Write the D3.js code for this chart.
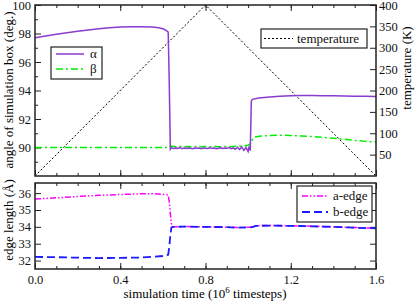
<!DOCTYPE html>
<html>
<head>
<meta charset="utf-8">
<script src="https://cdn.jsdelivr.net/npm/d3@7"></script>
<style>
  body { margin: 0; background: #fff; }
  svg, svg text { font-family: 'Liberation Serif', 'Times New Roman', Times, 'DejaVu Serif', serif !important; }
  .axis path { display: none; }
  .axis line { stroke: #222; stroke-width: 1; }
  .axis text { font-size: 12.5px; fill: #111; }
</style>
</head>
<body>
<script>
// ---- data (time in 10^6 timesteps) ----
const alphaT = [0, 0.05, 0.1, 0.15, 0.2, 0.25, 0.3, 0.35, 0.4, 0.45, 0.5, 0.55, 0.58, 0.6, 0.615, 0.625, 0.63, 0.635,
  0.64, 0.65, 0.66, 0.67, 0.68, 0.69, 0.70, 0.71, 0.72, 0.73, 0.74, 0.75, 0.76, 0.77, 0.78, 0.79, 0.80, 0.81, 0.82,
  0.83, 0.84, 0.85, 0.86, 0.87, 0.88, 0.89, 0.90, 0.91, 0.92, 0.93, 0.94, 0.95, 0.96, 0.97, 0.98, 0.99, 1.00, 1.005,
  1.01, 1.015, 1.02, 1.05, 1.1, 1.15, 1.2, 1.25, 1.3, 1.35, 1.4, 1.45, 1.5, 1.55, 1.6];
const alphaV = [97.7, 97.82, 97.95, 98.06, 98.16, 98.25, 98.33, 98.4, 98.45, 98.48, 98.48, 98.45, 98.4, 98.33, 98.22, 98.1, 94.5, 89.88,
  89.98, 89.93, 89.97, 89.94, 89.99, 89.92, 89.96, 89.93, 89.97, 89.95, 89.92, 89.96, 89.94, 89.97, 89.92, 89.96, 89.95, 89.93, 89.98,
  89.94, 89.96, 89.92, 89.95, 89.98, 89.93, 89.96, 89.94, 89.99, 89.92, 89.97, 89.88, 90.02, 89.85, 90.05, 89.8, 90.0, 89.72, 90.08,
  89.78, 93.25, 93.38, 93.47, 93.55, 93.6, 93.63, 93.65, 93.65, 93.64, 93.63, 93.61, 93.6, 93.59, 93.58];

const betaT = [0, 0.2, 0.4, 0.6, 0.63, 0.64, 0.66, 0.68, 0.7, 0.72, 0.74, 0.76, 0.78, 0.8, 0.82, 0.84, 0.86, 0.88, 0.9,
  0.92, 0.94, 0.96, 0.98, 1.0, 1.01, 1.02, 1.03, 1.06, 1.1, 1.15, 1.2, 1.25, 1.3, 1.35, 1.4, 1.45, 1.5, 1.55, 1.6];
const betaV = [90.0, 90.0, 90.0, 90.0, 90.0, 90.1, 90.05, 90.08, 90.05, 90.07, 90.05, 90.08, 90.05, 90.07, 90.05, 90.08,
  90.06, 90.05, 90.08, 90.06, 90.08, 90.1, 90.12, 90.16, 90.25, 90.55, 90.74, 90.8, 90.84, 90.86, 90.84, 90.81, 90.77,
  90.71, 90.65, 90.58, 90.5, 90.43, 90.38];

const tempT = [0, 0.8, 1.6];
const tempV = [0, 400, 0];

const edgeT = [0, 0.1, 0.2, 0.3, 0.4, 0.5, 0.55, 0.6, 0.625, 0.63, 0.635, 0.64, 0.645, 0.7, 0.8, 0.9, 0.95, 1.0,
  1.02, 1.035, 1.1, 1.2, 1.3, 1.4, 1.5, 1.6];
const aEdgeV = [35.65, 35.72, 35.8, 35.87, 35.92, 35.96, 35.97, 35.93, 35.88, 35.5, 34.8, 34.2, 34.0, 34.02, 34.0,
  33.98, 33.96, 33.97, 33.98, 34.07, 34.08, 34.06, 34.04, 34.0, 33.96, 33.92];
const bEdgeV = [32.22, 32.2, 32.17, 32.15, 32.16, 32.18, 32.22, 32.27, 32.35, 32.8, 33.5, 33.95, 34.0, 34.01, 34.0,
  33.98, 33.95, 33.97, 33.98, 34.06, 34.07, 34.06, 34.03, 34.0, 33.95, 33.91];

const xTicks = [0, 0.4, 0.8, 1.2, 1.6];
const angleTicks = [90, 92, 94, 96, 98, 100];
const tempTicks = [50, 100, 150, 200, 250, 300, 350, 400];
const edgeTicks = [32, 33, 34, 35, 36];

// ---- layout ----
const W = 415, H = 303;
const X0 = 35, X1 = 376;
const T0 = 5, T1 = 176;   // top panel
const B0 = 183, B1 = 269; // bottom panel
const FONT = "'Liberation Serif', 'Times New Roman', serif";

const svg = d3.select('body').append('svg').attr('width', W).attr('height', H)
  .attr('font-family', FONT);

const x = d3.scaleLinear().domain([0, 1.6]).range([X0, X1]);
const yAng = d3.scaleLinear().domain([88, 100]).range([T1, T0]);
const yTemp = d3.scaleLinear().domain([0, 400]).range([T1, T0]);
const yEdge = d3.scaleLinear().domain([31.5, 36.6]).range([B1, B0]);

const xMinor = d3.range(0, 1.61, 0.1);

function ax(g) { return g.attr('class', 'axis').attr('font-family', FONT); }

function xAxes(top, bottom, labels) {
  ax(svg.append('g')).attr('transform', `translate(0,${bottom})`)
    .call(d3.axisBottom(x).tickValues(xTicks).tickSize(-6).tickPadding(6)
      .tickFormat(labels ? d3.format('.1f') : ''));
  ax(svg.append('g')).attr('transform', `translate(0,${bottom})`)
    .call(d3.axisBottom(x).tickValues(xMinor).tickSize(-3).tickFormat(''));
  ax(svg.append('g')).attr('transform', `translate(0,${top})`)
    .call(d3.axisTop(x).tickValues(xTicks).tickSize(-6).tickFormat(''));
  ax(svg.append('g')).attr('transform', `translate(0,${top})`)
    .call(d3.axisTop(x).tickValues(xMinor).tickSize(-3).tickFormat(''));
}

// top panel axes
xAxes(T0, T1, false);
ax(svg.append('g')).attr('transform', `translate(${X0},0)`)
  .call(d3.axisLeft(yAng).tickValues(angleTicks).tickSize(-6).tickPadding(4).tickFormat(d3.format('d')));
ax(svg.append('g')).attr('transform', `translate(${X0},0)`)
  .call(d3.axisLeft(yAng).tickValues(d3.range(89, 100, 2)).tickSize(-3).tickFormat(''));
ax(svg.append('g')).attr('transform', `translate(${X1},0)`)
  .call(d3.axisRight(yTemp).tickValues(tempTicks).tickSize(-6).tickPadding(3).tickFormat(d3.format('d')));

// bottom panel axes
xAxes(B0, B1, true);
ax(svg.append('g')).attr('transform', `translate(${X0},0)`)
  .call(d3.axisLeft(yEdge).tickValues(edgeTicks).tickSize(-6).tickPadding(4).tickFormat(d3.format('d')));
ax(svg.append('g')).attr('transform', `translate(${X1},0)`)
  .call(d3.axisRight(yEdge).tickValues(edgeTicks).tickSize(-6).tickFormat(''));

// series
function drawLine(ts, vs, yScale, color, width, dash) {
  const pts = ts.map((t, i) => [t, vs[i]]);
  svg.append('path')
    .datum(pts)
    .attr('fill', 'none')
    .attr('stroke', color)
    .attr('stroke-width', width)
    .attr('stroke-dasharray', dash)
    .attr('d', d3.line().x(d => x(d[0])).y(d => yScale(d[1])));
}

drawLine(tempT, tempV, yTemp, '#000', 1, '2,2');
drawLine(betaT, betaV, yAng, '#00ee00', 1.5, '7,3,2,3');
drawLine(alphaT, alphaV, yAng, '#8a3bd0', 1.5, null);

drawLine(edgeT, aEdgeV, yEdge, '#ff00ff', 1.5, '6,2,1.5,2,1.5,2');
drawLine(edgeT, bEdgeV, yEdge, '#1a1aff', 1.8, '8,4');

// frames
[[T0, T1], [B0, B1]].forEach(([a, b]) => {
  svg.append('rect').attr('x', X0).attr('y', a).attr('width', X1 - X0).attr('height', b - a)
    .attr('fill', 'none').attr('stroke', '#222').attr('stroke-width', 1.5);
});

// legends
function legend(bx, by, bw, bh, items) {
  svg.append('rect').attr('x', bx).attr('y', by).attr('width', bw).attr('height', bh)
    .attr('fill', '#fff').attr('stroke', '#222').attr('stroke-width', 1.2);
  items.forEach(it => {
    svg.append('line').attr('x1', it.x1).attr('x2', it.x2).attr('y1', it.y).attr('y2', it.y)
      .attr('stroke', it.color).attr('stroke-width', it.w).attr('stroke-dasharray', it.dash);
    svg.append('text').attr('x', it.tx).attr('y', it.y + 4).attr('font-size', 13).attr('fill', '#111')
      .text(it.label);
  });
}

legend(51, 47, 51, 32, [
  { label: 'α', color: '#8a3bd0', w: 1.5, dash: null, x1: 56, x2: 84, y: 54, tx: 90 },
  { label: 'β', color: '#00ee00', w: 1.5, dash: '7,3,2,3', x1: 56, x2: 84, y: 69, tx: 90 }
]);
legend(261, 29, 106, 19, [
  { label: 'temperature', color: '#000', w: 1, dash: '2,2', x1: 264, x2: 293, y: 38.5, tx: 297 }
]);
legend(297, 186, 75, 36, [
  { label: 'a-edge', color: '#ff00ff', w: 1.5, dash: '6,2,1.5,2,1.5,2', x1: 302, x2: 328, y: 196, tx: 333 },
  { label: 'b-edge', color: '#1a1aff', w: 1.8, dash: '8,4', x1: 302, x2: 328, y: 212, tx: 333 }
]);

// axis titles
svg.append('text').attr('transform', 'translate(13,90) rotate(-90)').attr('text-anchor', 'middle')
  .attr('font-size', 13).text('angle of simulation box (deg.)');
svg.append('text').attr('transform', 'translate(411,68) rotate(-90)').attr('text-anchor', 'middle')
  .attr('font-size', 13).text('temperature (K)');
svg.append('text').attr('transform', 'translate(13,220) rotate(-90)').attr('text-anchor', 'middle')
  .attr('font-size', 13).text('edge length (Å)');

const xt = svg.append('text').attr('x', 205).attr('y', 298).attr('text-anchor', 'middle').attr('font-size', 13);
xt.append('tspan').text('simulation time (10');
xt.append('tspan').attr('dy', -5).attr('font-size', 9).text('6');
xt.append('tspan').attr('dy', 5).text(' timesteps)');
</script>
</body>
</html>
